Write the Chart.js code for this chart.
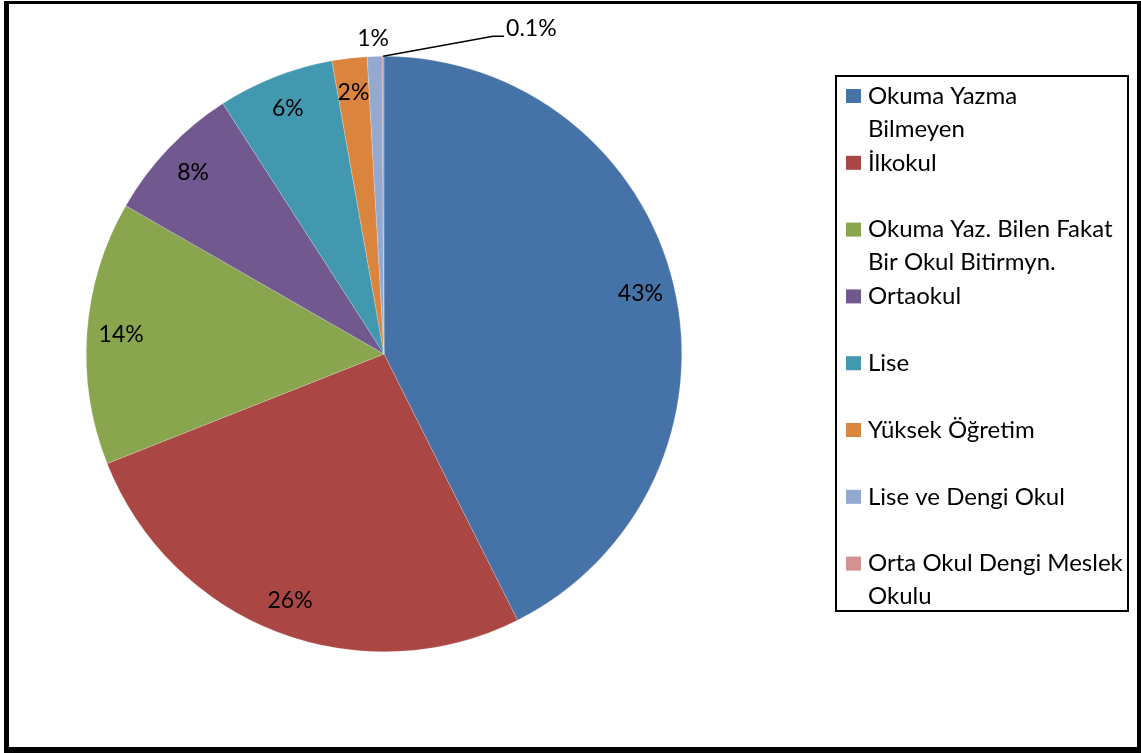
<!DOCTYPE html>
<html>
<head>
<meta charset="utf-8">
<script src="https://cdn.jsdelivr.net/npm/chart.js@4"></script>
<style>
  html, body { margin: 0; padding: 0; background: #fff; }
  #wrap { position: relative; width: 1141px; height: 753px; }
</style>
</head>
<body>
<div id="wrap"><canvas id="pie-chart"></canvas></div>
<script>
// categories (multi-line entries wrap like in the legend)
const categories = [
  ['Okuma Yazma', 'Bilmeyen'],
  'İlkokul',
  ['Okuma Yaz. Bilen Fakat', 'Bir Okul Bitirmyn.'],
  'Ortaokul',
  'Lise',
  'Yüksek Öğretim',
  'Lise ve Dengi Okul',
  ['Orta Okul Dengi Meslek', 'Okulu']
];
// share in percent
const shares = [42.6, 26.4, 14.3, 7.6, 6.3, 1.9, 0.8, 0.1];
const sliceColors = ['#4572A7', '#AA4643', '#89A54E', '#71588F', '#4198AF', '#DB843D', '#93A9CF', '#D19392'];

const FONT = 'Lato, "Open Sans", sans-serif';

// frame round the whole picture
const framePlugin = {
  id: 'frame',
  beforeDraw(chart) {
    const c = chart.ctx;
    c.save();
    c.fillStyle = '#fff';
    c.fillRect(0, 0, chart.width, chart.height);
    c.fillStyle = '#000';
    c.fillRect(4, 1, chart.width - 5, 3);        // top
    c.fillRect(4, 1, 5, chart.height - 3);       // left
    c.fillRect(chart.width - 4, 1, 4, chart.height - 1); // right
    c.fillRect(4, chart.height - 6, chart.width - 4, 6); // bottom
    c.restore();
  }
};

// percent labels on / beside the slices
const pctLabels = {
  id: 'pctLabels',
  afterDatasetsDraw(chart) {
    const c = chart.ctx;
    const meta = chart.getDatasetMeta(0);
    const vals = chart.data.datasets[0].data;
    const total = vals.reduce((a, b) => a + b, 0);
    c.save();
    c.font = '23px ' + FONT;
    c.fillStyle = '#000';
    meta.data.forEach((arc, i) => {
      const p = arc.getProps(['x', 'y', 'startAngle', 'endAngle', 'outerRadius'], true);
      const mid = (p.startAngle + p.endAngle) / 2;
      const pct = vals[i] / total * 100;
      const txt = (pct < 0.5 ? pct.toFixed(1) : Math.round(pct)) + '%';
      if (pct >= 1.5) {
        const rr = p.outerRadius * 0.885;
        c.textAlign = 'center';
        c.textBaseline = 'middle';
        c.fillText(txt, p.x + Math.cos(mid) * rr, p.y + Math.sin(mid) * rr);
      } else if (pct >= 0.5) {
        const rr = p.outerRadius + 18;
        c.textAlign = 'center';
        c.textBaseline = 'middle';
        c.fillText(txt, p.x + Math.cos(mid) * rr - 1, p.y + Math.sin(mid) * rr);
      } else {
        const sx = p.x + Math.cos(mid) * p.outerRadius;
        const sy = p.y + Math.sin(mid) * p.outerRadius;
        const ex = sx + 110, ey = sy - 20;
        c.strokeStyle = '#000';
        c.lineWidth = 1.5;
        c.beginPath();
        c.moveTo(sx, sy);
        c.lineTo(ex, ey);
        c.lineTo(ex + 11, ey);
        c.stroke();
        c.textAlign = 'left';
        c.textBaseline = 'alphabetic';
        c.fillText(txt, ex + 13, ey);
      }
    });
    c.restore();
  }
};

// boxed legend on the right
const boxLegend = {
  id: 'boxLegend',
  afterDraw(chart) {
    const c = chart.ctx;
    const bx = 836, by = 76, bw = 292, bh = 535;
    const rowH = 66.8, lineH = 33;
    c.save();
    c.strokeStyle = '#000';
    c.lineWidth = 2;
    c.strokeRect(bx, by, bw, bh);
    c.font = '24px ' + FONT;
    c.textAlign = 'left';
    c.textBaseline = 'middle';
    chart.data.labels.forEach((lab, i) => {
      const y0 = by + 20 + i * rowH;
      c.fillStyle = sliceColors[i];
      c.fillRect(bx + 10, y0 - 7, 15, 14);
      c.fillStyle = '#000';
      const lines = Array.isArray(lab) ? lab : [lab];
      lines.forEach((t, j) => c.fillText(t, bx + 32, y0 + j * lineH));
    });
    c.restore();
  }
};

new Chart(document.getElementById('pie-chart'), {
  type: 'pie',
  data: {
    labels: categories,
    datasets: [{
      data: shares,
      backgroundColor: sliceColors,
      borderColor: 'rgba(255,255,255,0.4)',
      borderWidth: 0.5
    }]
  },
  options: {
    responsive: true,
    maintainAspectRatio: false,
    animation: false,
    devicePixelRatio: 1,
    layout: { padding: { left: 86, top: 56, right: 459, bottom: 101 } },
    plugins: {
      legend: { display: false },
      tooltip: { enabled: false }
    }
  },
  plugins: [framePlugin, pctLabels, boxLegend]
});
</script>
</body>
</html>
